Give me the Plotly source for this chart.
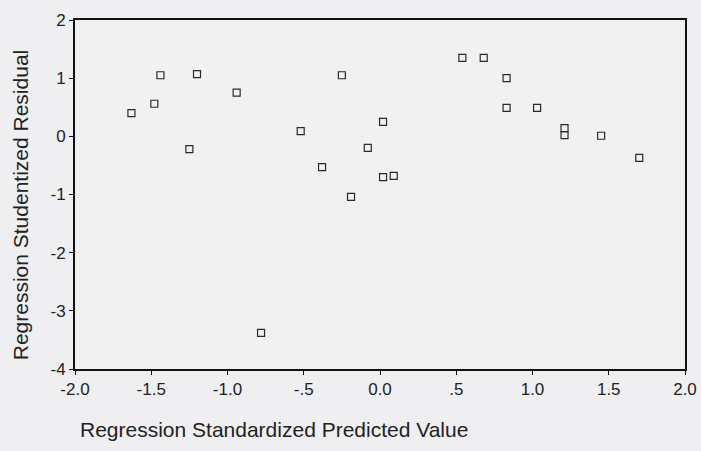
import plotly.graph_objects as go

# Regression Standardized Predicted Value
pred = [-1.63, -1.48, -1.44, -1.25, -1.20, -0.94, -0.52, -0.25, -0.38, -0.19,
        -0.08, 0.02, 0.02, 0.09, -0.78, 0.54, 0.68, 0.83, 0.83, 1.03,
        1.21, 1.21, 1.45, 1.70]
# Regression Studentized Residual
resid = [0.40, 0.56, 1.05, -0.22, 1.07, 0.75, 0.09, 1.05, -0.53, -1.04,
         -0.20, 0.25, -0.70, -0.68, -3.38, 1.35, 1.35, 1.00, 0.49, 0.49,
         0.14, 0.02, 0.01, -0.37]

x_ticks = [-2.0, -1.5, -1.0, -0.5, 0.0, 0.5, 1.0, 1.5, 2.0]
x_tick_labels = ["-2.0", "-1.5", "-1.0", "-.5", "0.0", ".5", "1.0", "1.5", "2.0"]
y_ticks = [2, 1, 0, -1, -2, -3, -4]
y_tick_labels = ["2", "1", "0", "-1", "-2", "-3", "-4"]

fig = go.Figure()
fig.add_trace(go.Scatter(
    x=pred, y=resid, mode="markers",
    marker=dict(symbol="square-open", size=7, color="#2a2a2a",
                line=dict(width=1.2, color="#2a2a2a")),
    showlegend=False,
))

font = "Liberation Sans, Arial, sans-serif"
axis_common = dict(showgrid=False, zeroline=False, showline=True,
                   linecolor="#111111", linewidth=2, mirror=True,
                   ticks="outside", ticklen=4, tickwidth=1, tickcolor="#111111",
                   automargin=False,
                   tickfont=dict(family=font, size=17, color="#222222"))

fig.update_xaxes(range=[-2, 2], tickvals=x_ticks, ticktext=x_tick_labels, **axis_common)
fig.update_yaxes(range=[-4, 2], tickvals=y_ticks, ticktext=y_tick_labels, **axis_common)

fig.add_annotation(text="Regression Standardized Predicted Value",
                   xref="paper", yref="paper", x=0.005, y=-0.135,
                   xanchor="left", yanchor="top", showarrow=False,
                   font=dict(family=font, size=21, color="#222222"))
fig.add_annotation(text="Regression Studentized Residual",
                   xref="paper", yref="paper", x=-0.088, y=0.47,
                   xanchor="center", yanchor="middle", textangle=-90, showarrow=False,
                   font=dict(family=font, size=21, color="#222222"))

fig.update_layout(
    width=701, height=451,
    margin=dict(l=75, r=16, t=20, b=82),
    paper_bgcolor="#efeff1",
    plot_bgcolor="#f1f1f2",
)

fig.write_html("out.html", config={"displayModeBar": False})

with open("out.html", "r", encoding="utf-8") as f:
    html = f.read()
html = html.replace("<head>", "<head><style>html,body{margin:0;padding:0;background:#efeff1;overflow:hidden;}</style>", 1)
with open("out.html", "w", encoding="utf-8") as f:
    f.write(html)
